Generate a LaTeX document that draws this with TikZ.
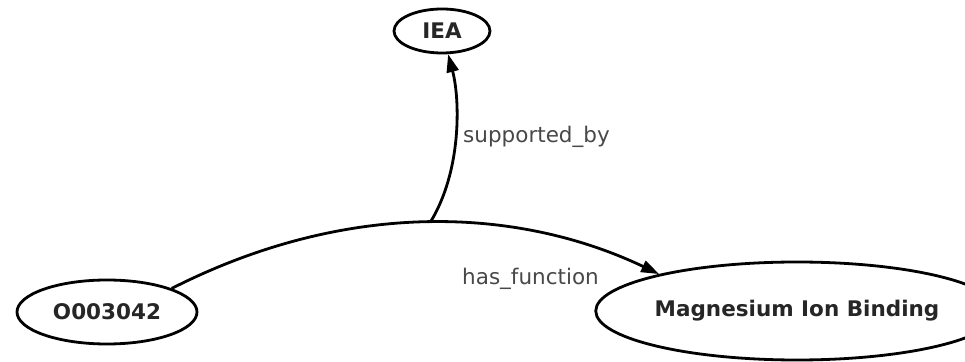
\documentclass[tikz,border=0pt]{standalone}
\usepackage{fontspec}
\setmainfont{DejaVu Sans}
\usetikzlibrary{shapes.geometric,arrows.meta}
\definecolor{lblgray}{HTML}{484848}
\begin{document}
\begin{tikzpicture}[x=1pt,y=1pt,
  ent/.style={ellipse,draw=black,line width=2.8pt,inner sep=0pt,
    font=\bfseries\fontsize{21.5}{25}\selectfont,text=black!85},
  rel/.style={line width=2.8pt,-{Triangle[length=18pt,width=12pt]}},
  lbl/.style={anchor=base west,font=\fontsize{21.5}{25}\selectfont,text=lblgray,inner sep=0pt}]
\useasboundingbox (0,0) rectangle (965,361);
\node[ent,minimum width=96pt,minimum height=44pt] (iea) at (442,330) {IEA};
\node[ent,minimum width=180pt,minimum height=64pt] (o) at (107,49) {O003042};
\node[ent,minimum width=340pt,minimum height=98pt] (m) at (797,50) {Magnesium Ion Binding};
\draw[rel] (o.20) .. controls (350,163) and (520,153) .. (m.165) coordinate[pos=0.5] (mid);
\draw[rel] (mid) .. controls (462,190) and (460,262) .. (iea);
\node[lbl] (l1) at (463,218) {supported\_by};
\node[lbl] (l2) at (462,76) {has\_function};
\end{tikzpicture}
\end{document}
